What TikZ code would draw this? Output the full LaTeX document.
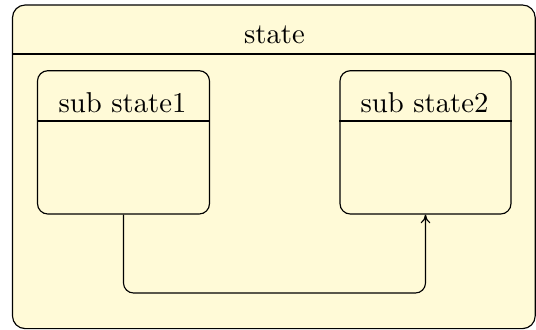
\documentclass[tikz,border=0pt]{standalone}
\usetikzlibrary{fit,arrows.meta}
\definecolor{stfill}{RGB}{255,250,215}
\begin{document}
\begin{tikzpicture}[x=0.3484pt,y=-0.3484pt,
  box/.style={draw=black,fill=stfill,rounded corners=3.6pt,inner sep=0pt,line width=0.4pt},
  outerbox/.style={draw=black,fill=stfill,rounded corners=4.4pt,inner sep=0pt,line width=0.4pt},
  lbl/.style={anchor=base,inner sep=0pt,font=\normalsize}]
\useasboundingbox (0,0) rectangle (536,329);
\coordinate (o1) at (12.5,5);
\coordinate (o2) at (535.2,328.6);
\node[outerbox,fit=(o1)(o2)] (outer) {};
\coordinate (a1) at (37.5,70.7);
\coordinate (a2) at (209.5,214);
\node[box,fit=(a1)(a2)] (s1) {};
\coordinate (b1) at (340,70.7);
\coordinate (b2) at (511,214);
\node[box,fit=(b1)(b2)] (s2) {};
\coordinate (hdO) at (0,54);
\coordinate (hdS) at (0,121);
\draw (outer.west |- hdO) -- (outer.east |- hdO);
\draw (s1.west |- hdS) -- (s1.east |- hdS);
\draw (s2.west |- hdS) -- (s2.east |- hdS);
\node[lbl] (tstate) at (274.5,43.5) {state};
\node[lbl] (t1) at (122.5,112) {sub state1};
\node[lbl] (t2) at (424.5,112) {sub state2};
\coordinate (low) at (0,293);
\draw[-{To[length=3pt,width=3.3pt]},rounded corners=3.5pt] (s1.south) -- (s1.south |- low) -- (s2.south |- low) -- (s2.south);
\end{tikzpicture}
\end{document}
